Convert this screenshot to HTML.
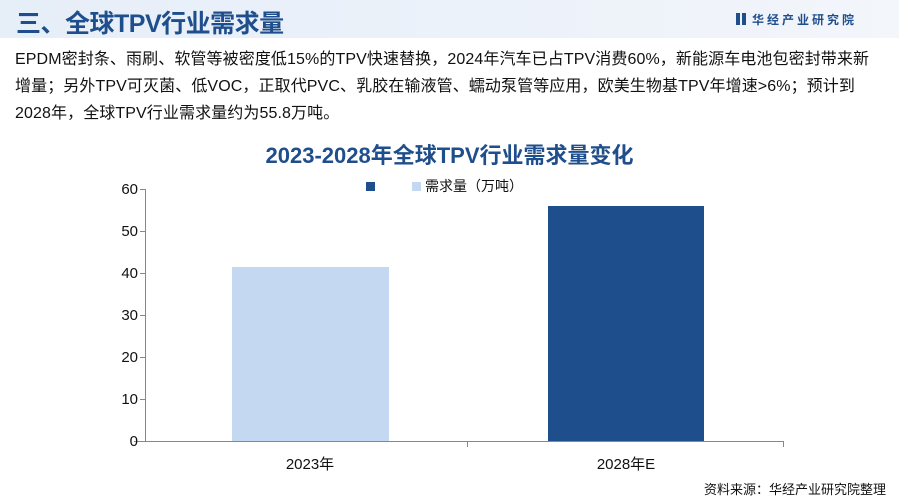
<!DOCTYPE html>
<html><head><meta charset="utf-8"><style>
*{margin:0;padding:0;box-sizing:border-box}
body{width:899px;height:500px;background:#fff;position:relative;overflow:hidden;font-family:"Liberation Sans","Noto Sans CJK SC",sans-serif;color:#111}
.hdr{position:absolute;left:0;top:0;width:899px;height:38px;background:linear-gradient(90deg,#e6eef8,#eef3fa 70%,#f3f6fb)}
.t{position:absolute;left:16px;top:4px;font-size:25px;color:#1f4e8c;font-weight:bold;letter-spacing:-0.5px}
.logo{position:absolute;left:736px;top:11px;font-size:12px;color:#1f4e8c;font-weight:bold;letter-spacing:3px}
.p{position:absolute;left:15px;top:46px;width:890px;font-size:16px;line-height:27px;color:#111;letter-spacing:0.1px;white-space:nowrap}
.ct{position:absolute;left:0;width:899px;top:138px;text-align:center;font-size:22px;font-weight:bold;color:#1f4e8c}
</style></head><body>
<div class="hdr"></div>
<div class="t">三、全球TPV行业需求量</div>
<div class="logo"><span style="display:inline-block;width:4px;height:12px;background:#1f4e8c;margin-right:2px;vertical-align:-1px"></span><span style="display:inline-block;width:4px;height:12px;background:#1f4e8c;margin-right:6px;vertical-align:-1px"></span>华经产业研究院</div>
<div class="p">EPDM密封条、雨刷、软管等被密度低15%的TPV快速替换，2024年汽车已占TPV消费60%，新能源车电池包密封带来新<br>增量；另外TPV可灭菌、低VOC，正取代PVC、乳胶在输液管、蠕动泵管等应用，欧美生物基TPV年增速&gt;6%；预计到<br>2028年，全球TPV行业需求量约为55.8万吨。</div>
<div class="ct">2023-2028年全球TPV行业需求量变化</div>
<svg width="899" height="500" style="position:absolute;left:0;top:0">
<g stroke="#888" stroke-width="1">
<line x1="145.5" y1="189" x2="145.5" y2="441"/>
<line x1="134" y1="441.5" x2="784" y2="441.5"/>
<line x1="140" y1="189.5" x2="145" y2="189.5"/><line x1="140" y1="231.5" x2="145" y2="231.5"/><line x1="140" y1="273.5" x2="145" y2="273.5"/><line x1="140" y1="315.5" x2="145" y2="315.5"/><line x1="140" y1="357.5" x2="145" y2="357.5"/><line x1="140" y1="399.5" x2="145" y2="399.5"/>
<line x1="467.5" y1="441" x2="467.5" y2="447"/><line x1="783.5" y1="441" x2="783.5" y2="447"/>
</g>
<rect x="232" y="267" width="157" height="174" fill="#c5d8f2"/>
<rect x="548" y="206" width="156" height="235" fill="#1f4e8c"/>
<rect x="366" y="182" width="9" height="9" fill="#1f4e8c"/>
<rect x="412" y="182" width="9" height="9" fill="#c5d8f2"/>
<g font-size="15" fill="#111" font-family="Liberation Sans,Noto Sans CJK SC,sans-serif" text-anchor="end">
<text x="138" y="194">60</text><text x="138" y="236">50</text><text x="138" y="278">40</text><text x="138" y="320">30</text><text x="138" y="362">20</text><text x="138" y="404">10</text><text x="138" y="446">0</text>
</g>
<g font-size="15" fill="#111" font-family="Liberation Sans,Noto Sans CJK SC,sans-serif" text-anchor="middle">
<text x="310" y="469">2023年</text><text x="626" y="469">2028年E</text>
</g>
<text x="425" y="191" font-size="14" fill="#111" font-family="Liberation Sans,Noto Sans CJK SC,sans-serif">需求量（万吨）</text>
<text x="886" y="494" font-size="13" fill="#111" text-anchor="end" font-family="Liberation Sans,Noto Sans CJK SC,sans-serif">资料来源：华经产业研究院整理</text>
</svg>
</body></html>
